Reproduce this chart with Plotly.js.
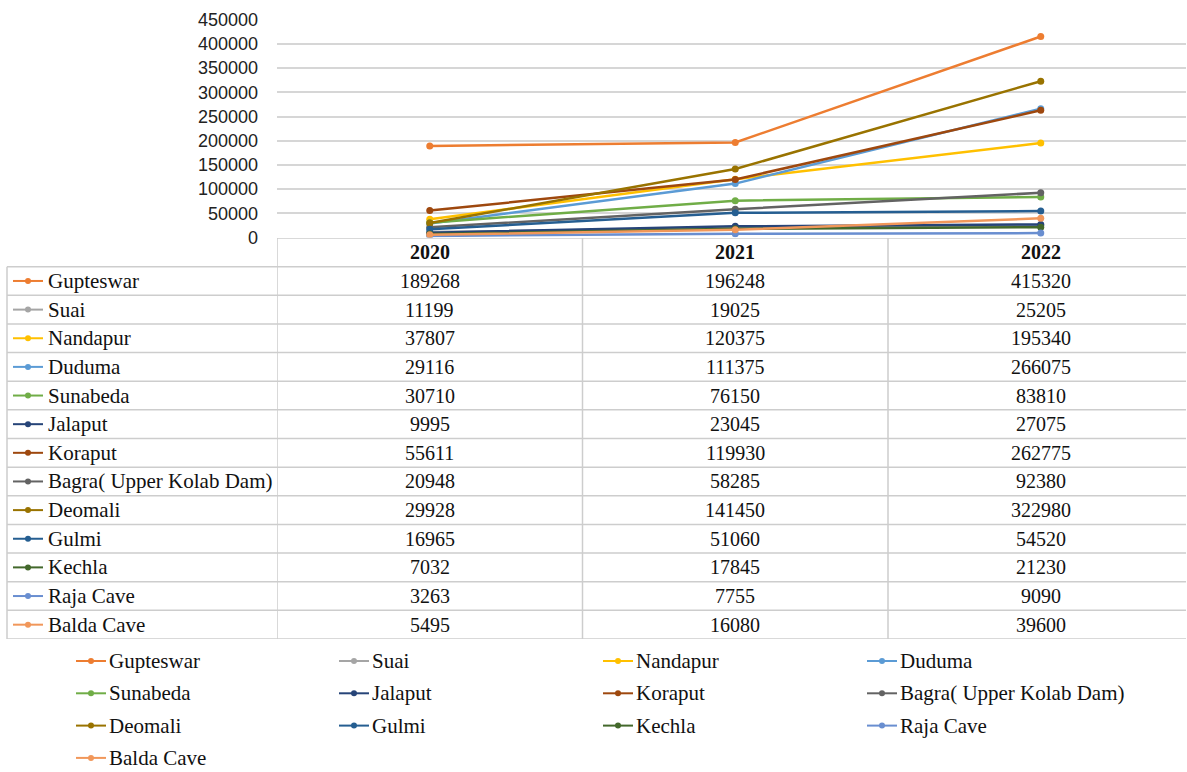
<!DOCTYPE html>
<html>
<head>
<meta charset="utf-8">
<script src="https://cdn.plot.ly/plotly-3.0.1.min.js"></script>
<style>
  html, body { margin: 0; padding: 0; background: #ffffff; }
  #chart { width: 1187px; height: 772px; }
</style>
</head>
<body>
<div id="chart"></div>
<script>
// Tourist footfall per site, Koraput district, 2020-2022
const years = ['2020', '2021', '2022'];
const sites = ['Gupteswar', 'Suai', 'Nandapur', 'Duduma', 'Sunabeda', 'Jalaput', 'Koraput',
  'Bagra( Upper Kolab Dam)', 'Deomali', 'Gulmi', 'Kechla', 'Raja Cave', 'Balda Cave'];
const visitors2020 = [189268, 11199, 37807, 29116, 30710, 9995, 55611, 20948, 29928, 16965, 7032, 3263, 5495];
const visitors2021 = [196248, 19025, 120375, 111375, 76150, 23045, 119930, 58285, 141450, 51060, 17845, 7755, 16080];
const visitors2022 = [415320, 25205, 195340, 266075, 83810, 27075, 262775, 92380, 322980, 54520, 21230, 9090, 39600];
const siteColors = ['#ED7D31', '#A5A5A5', '#FFC000', '#5B9BD5', '#70AD47', '#264478', '#9E480E',
  '#636363', '#997300', '#255E91', '#43682B', '#698ED0', '#F1975A'];

// page geometry (pixels)
const W = 1187, H = 772;
const plotLeft = 277, plotRight = 1186;
const plotW = plotRight - plotLeft;
const px = p => (p - plotLeft) / plotW;      // pixel x -> paper x
const py = p => 1 - p / H;                   // pixel y -> paper y

const serif = 'Liberation Serif, Times New Roman, serif';
const sans = 'Liberation Sans, Arial, sans-serif';
const gridGrey = '#d6d6d6';
const borderGrey = '#cdcdcd';

const yearValues = [visitors2020, visitors2021, visitors2022];

const traces = sites.map((name, i) => ({
  type: 'scatter',
  mode: 'lines+markers',
  name: name,
  x: years,
  y: yearValues.map(arr => arr[i]),
  xaxis: 'x',
  yaxis: 'y',
  line: { color: siteColors[i], width: 2.5 },
  marker: { color: siteColors[i], size: 7 },
  showlegend: false,
  hovertemplate: name + '<br>%{x}: %{y}<extra></extra>'
}));

const shapes = [];
const annotations = [];

// small line-and-dot key, centred vertically on yVal
function addKey(x0, yVal, yref, color) {
  shapes.push({ type: 'line', xref: 'paper', yref: yref, x0: px(x0), x1: px(x0 + 30),
    y0: yVal, y1: yVal, line: { color: color, width: 2 } });
  shapes.push({ type: 'circle', xref: 'paper', yref: yref, xsizemode: 'pixel', ysizemode: 'pixel',
    xanchor: px(x0 + 15), yanchor: yVal, x0: -3, x1: 3, y0: -3, y1: 3,
    fillcolor: color, line: { color: color, width: 0 } });
}

// data table below the plot: rows on a hidden axis, columns on the category axis
const tableLeft = px(7);
const lineStyle = { color: borderGrey, width: 1.5 };

// header top (only over the year columns)
shapes.push({ type: 'line', xref: 'paper', yref: 'y2', x0: 0, x1: 1, y0: -1.5, y1: -1.5, line: lineStyle });
for (let r = 0; r <= sites.length; r++) {
  shapes.push({ type: 'line', xref: 'paper', yref: 'y2', x0: tableLeft, x1: 1,
    y0: r - 0.5, y1: r - 0.5, line: lineStyle });
}
shapes.push({ type: 'line', xref: 'paper', yref: 'y2', x0: tableLeft, x1: tableLeft,
  y0: -0.5, y1: sites.length - 0.5, line: lineStyle });
[-0.5, 0.5, 1.5].forEach(c => {
  shapes.push({ type: 'line', xref: 'x', yref: 'y2', x0: c, x1: c,
    y0: -1.5, y1: sites.length - 0.5, line: lineStyle });
});

// column headers (category index j on the year axis)
years.forEach((yr, j) => {
  annotations.push({ xref: 'x', yref: 'y2', x: j, y: -1, text: '<b>' + yr + '</b>',
    showarrow: false, font: { family: serif, size: 20, color: '#111' } });
});

sites.forEach((name, i) => {
  addKey(13, i, 'y2', siteColors[i]);
  annotations.push({ xref: 'paper', yref: 'y2', x: px(46), y: i, xanchor: 'left', text: name,
    showarrow: false, font: { family: serif, size: 21, color: '#111' } });
  years.forEach((yr, j) => {
    annotations.push({ xref: 'x', yref: 'y2', x: j, y: i, text: String(yearValues[j][i]),
      showarrow: false, font: { family: serif, size: 20, color: '#111' } });
  });
});

// legend beneath the table: four columns, filled row by row
const legendCols = [76, 339, 603, 867];
const legendRowTop = 661, legendRowStep = 32.3;
sites.forEach((name, i) => {
  const cx = legendCols[i % 4];
  const ry = py(legendRowTop + Math.floor(i / 4) * legendRowStep);
  addKey(cx, ry, 'paper', siteColors[i]);
  annotations.push({ xref: 'paper', yref: 'paper', x: px(cx + 32), y: ry, xanchor: 'left',
    yanchor: 'middle', text: name, showarrow: false, borderpad: 0,
    font: { family: serif, size: 21, color: '#111' } });
});

const layout = {
  width: W, height: H,
  margin: { l: plotLeft, r: W - plotRight, t: 0, b: 0, pad: 0, autoexpand: false },
  paper_bgcolor: '#ffffff', plot_bgcolor: '#ffffff',
  showlegend: false,
  xaxis: {
    type: 'category', range: [-0.5, -0.5 + plotW / 305.5],
    showticklabels: false, showgrid: false, zeroline: false, showline: false, ticks: ''
  },
  yaxis: {
    domain: [py(237.5), py(19.7)], range: [0, 450000], dtick: 50000, tickformat: 'd',
    showgrid: true, gridcolor: gridGrey, gridwidth: 1.5, zeroline: false, showline: false,
    ticks: '', ticklabelstandoff: 18,
    tickfont: { family: sans, size: 18, color: '#222' }
  },
  yaxis2: {
    domain: [py(639), py(238)], range: [sites.length - 0.5, -1.5], anchor: 'x',
    visible: false, showgrid: false, zeroline: false, fixedrange: true
  },
  shapes: shapes,
  annotations: annotations
};

Plotly.newPlot('chart', traces, layout, { displayModeBar: false, responsive: false });
</script>
</body>
</html>
